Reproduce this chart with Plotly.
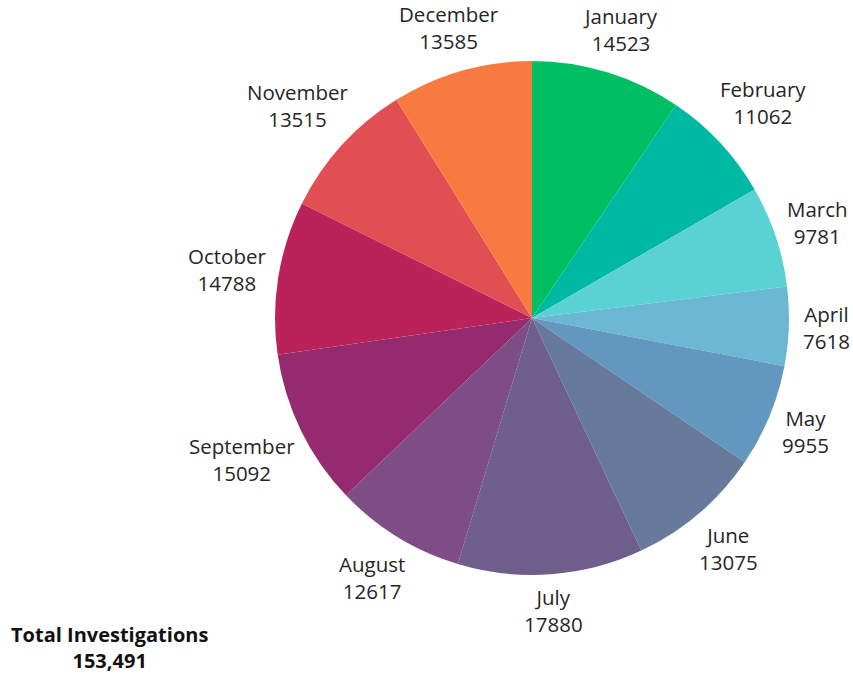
import math
import plotly.graph_objects as go

months = ["January", "February", "March", "April", "May", "June",
          "July", "August", "September", "October", "November", "December"]
values = [14523, 11062, 9781, 7618, 9955, 13075, 17880, 12617, 15092, 14788, 13515, 13585]
colors = ["#00BF63", "#00B9A3", "#5AD2D4", "#6CB8D4", "#6297C0", "#677A9C",
          "#6E5E8C", "#7E4D86", "#952A6E", "#BB225A", "#E24F53", "#F77B40"]
total_label = "Total Investigations"

W, H = 853, 675
cx, cy, R = 532, 318, 257  # pixel centre and radius of pie

fs = 20.5
fig = go.Figure(go.Pie(
    labels=months, values=values, sort=False, direction="clockwise", rotation=0,
    marker=dict(colors=colors, line=dict(width=0)),
    textinfo="none", hoverinfo="label+value", showlegend=False,
    domain=dict(x=[(cx - R) / W, (cx + R) / W], y=[(H - cy - R) / H, (H - cy + R) / H]),
))


def ann(px, py, text, size, color, family="Open Sans"):
    return dict(x=px / W, y=1 - py / H, xref="paper", yref="paper", text=text,
                showarrow=False, xanchor="center", yanchor="middle", align="center",
                font=dict(family=family, size=size, color=color))


total = sum(values)
cum = 0
annotations = []
for m, v in zip(months, values):
    mid = (cum + v / 2) / total * 2 * math.pi
    cum += v
    s, c = math.sin(mid), math.cos(mid)
    hw = max(len(m) * 11.3, len(str(v)) * 11.2) / 2
    hh = 25
    r = R + 9 + hw * abs(s) + hh * abs(c)
    px = cx + r * s
    py = cy - r * c
    annotations.append(ann(px, py, f"{m}<br>{v}", fs, "#262626"))

annotations.append(ann(110, 647, f"<b>{total_label}</b><br><b>{total:,}</b>", 20, "#111111"))

fig.update_layout(
    width=W, height=H, margin=dict(l=0, r=0, t=0, b=0),
    paper_bgcolor="white", plot_bgcolor="white",
    annotations=annotations,
)

fig.write_html(
    "out.html",
    config={"displayModeBar": False},
    post_script="document.body.style.margin='0';document.body.style.overflow='hidden';",
)
